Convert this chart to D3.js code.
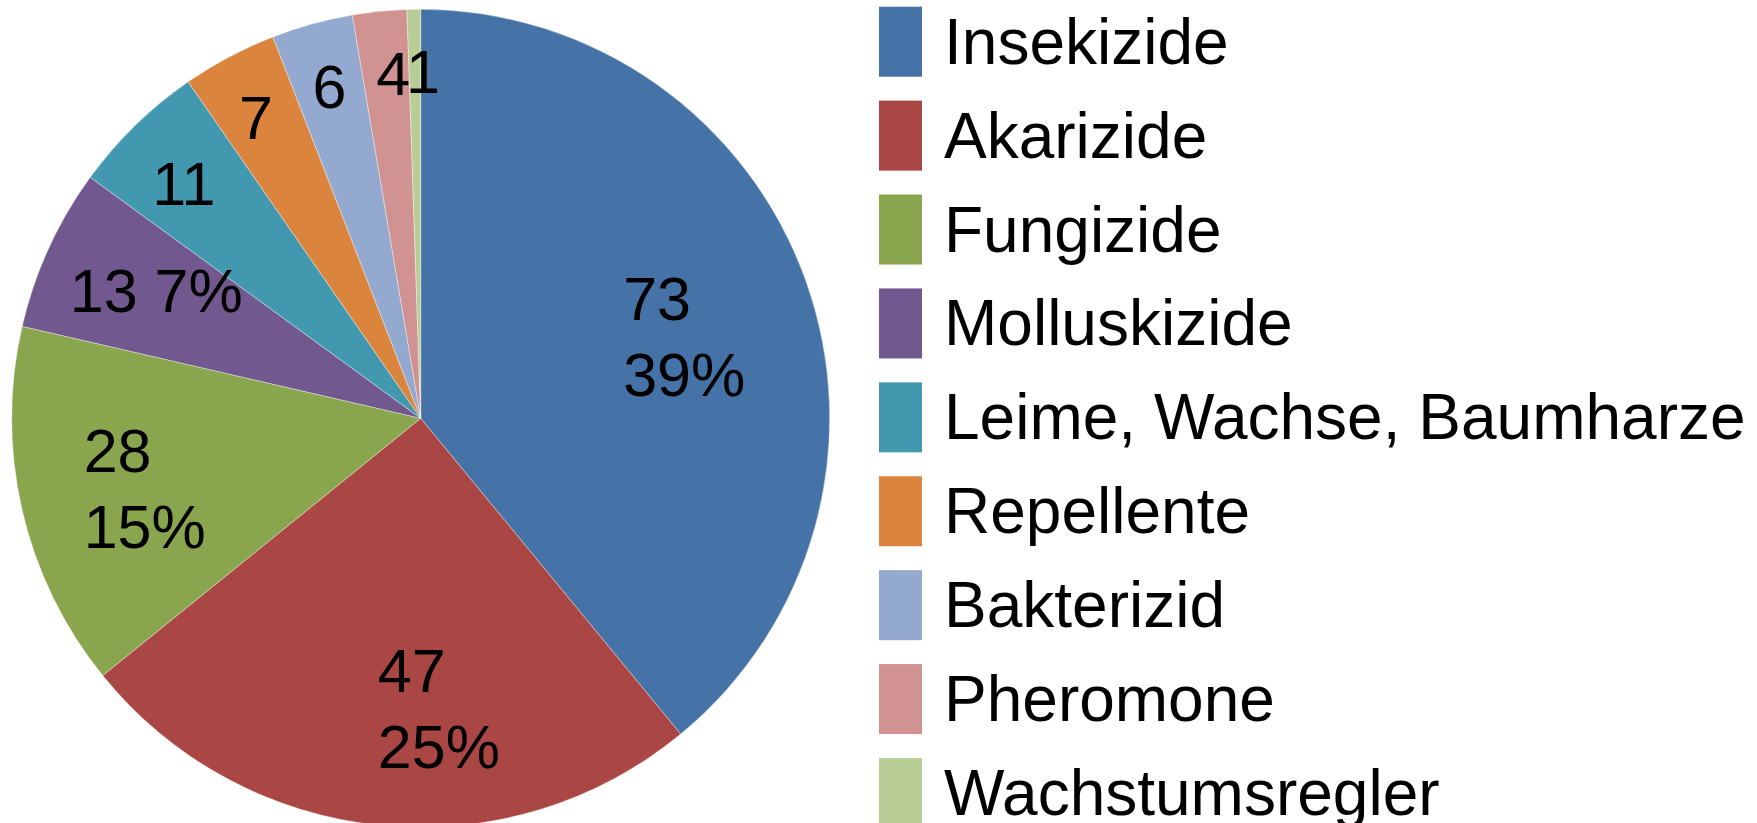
<!DOCTYPE html>
<html>
<head>
<meta charset="utf-8">
<script src="https://cdn.jsdelivr.net/npm/d3@7"></script>
<style>
  html, body { margin: 0; padding: 0; background: #ffffff; }
  svg { display: block; }
  text { font-family: "Liberation Sans", Arial, "Helvetica", sans-serif; fill: #000; }
</style>
</head>
<body>
<svg id="chart" width="1757" height="823"></svg>
<script>
// ---- data ----
const categories = ["Insekizide", "Akarizide", "Fungizide", "Molluskizide",
  "Leime, Wachse, Baumharze", "Repellente", "Bakterizid", "Pheromone", "Wachstumsregler"];
// slice sizes as drawn (measured from slice angles)
const values = [73, 47, 27, 12, 10, 7, 6, 4, 1];
// numbers printed in the data labels
const labelNumbers = ["73", "47", "28", "13", "11", "7", "6", "4", "1"];
// percentages printed in the data labels ("" = none shown)
const labelPercents = ["39%", "25%", "15%", "7%", "", "", "", "", ""];
const colors = ["#4572A7", "#AA4643", "#89A54E", "#71588F", "#4198AF",
  "#DB843D", "#93A9CF", "#D19392", "#B9CD96"];

// ---- layout ----
const W = 1757, H = 823;
const cx = 420.7, cy = 418.3, R = 409;
const labelFont = 61, lineGap = 76;
// manual label offsets (px) seen in the picture, relative to the slice centroid
const labelShift = [[-6, 15], [47, 5], [3, 5], [-4, -9], [3, 11], [-4, 2], [0, -1], [7, -3], [8, -4]];

const svg = d3.select("#chart");
const g = svg.append("g").attr("transform", `translate(${cx},${cy})`);

const pie = d3.pie().sort(null).value(d => d.value).startAngle(0).endAngle(2 * Math.PI);
const data = categories.map((c, i) => ({
  name: c, value: values[i], num: labelNumbers[i], pct: labelPercents[i], color: colors[i], i
}));
const arcs = pie(data);
const arc = d3.arc().innerRadius(0).outerRadius(R);

g.selectAll("path.slice").data(arcs).enter().append("path")
  .attr("class", "slice")
  .attr("d", arc)
  .attr("fill", d => d.data.color)
  .attr("stroke", "#ffffff")
  .attr("stroke-width", 0.6)
  .attr("stroke-opacity", 0.6);

// labels
const big = d => d.data.value >= 12;
const labelArc = d => {
  const r = (big(d) ? 0.70 : 0.84) * R;
  return d3.arc().innerRadius(r).outerRadius(r);
};

const lg = g.selectAll("g.lbl").data(arcs).enter().append("g").attr("class", "lbl")
  .attr("transform", d => {
    const [x, y] = labelArc(d).centroid(d);
    const [sx, sy] = labelShift[d.data.i];
    return `translate(${x + sx},${y + sy})`;
  });

const capH = 0.716 * labelFont;
lg.each(function(d) {
  const sel = d3.select(this);
  const twoLine = big(d) && d.data.i < 3;
  let lines;
  if (twoLine) lines = [d.data.num, d.data.pct];
  else if (d.data.pct) lines = [d.data.num + " " + d.data.pct];
  else lines = [d.data.num];
  const texts = lines.map((t, k) => sel.append("text")
    .attr("font-size", labelFont)
    .attr("text-anchor", "start")
    .text(t));
  const maxW = d3.max(texts, t => t.node().getComputedTextLength());
  const blockH = capH + lineGap * (lines.length - 1);
  const firstBase = -blockH / 2 + capH;
  texts.forEach((t, k) => t.attr("x", -maxW / 2).attr("y", firstBase + k * lineGap));
});

// legend
const legX = 879, swW = 43, swH = 70, textX = 944;
const rowY = d3.scaleLinear().domain([0, categories.length - 1]).range([6.7, 758]);
const leg = svg.append("g").selectAll("g").data(data).enter().append("g")
  .attr("transform", d => `translate(0,${rowY(d.i)})`);
leg.append("rect").attr("x", legX).attr("y", 0).attr("width", swW).attr("height", swH)
  .attr("fill", d => d.color);
leg.append("text").attr("x", textX).attr("y", 57).attr("font-size", 64).text(d => d.name);
</script>
</body>
</html>
